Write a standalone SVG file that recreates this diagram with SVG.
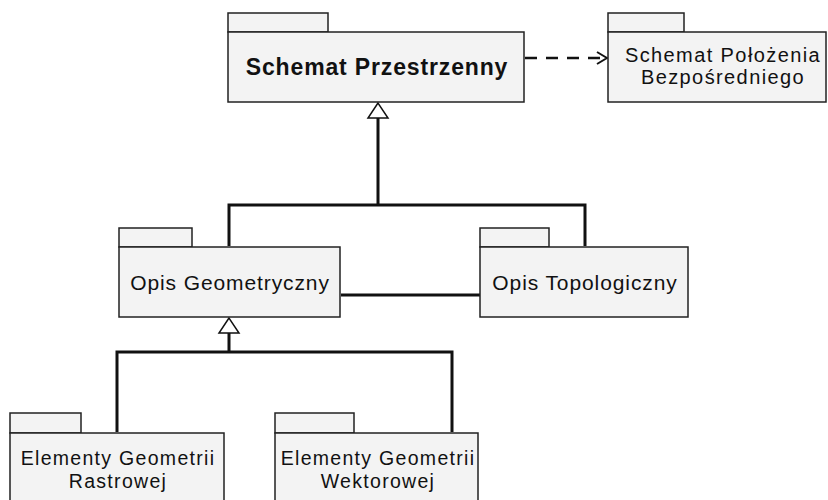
<svg xmlns="http://www.w3.org/2000/svg" width="828" height="500" viewBox="0 0 828 500">
<style>
.box{fill:#f3f3f3;stroke:#222;stroke-width:1.5}
.t{font-family:"Liberation Sans",Arial,sans-serif;fill:#111;text-anchor:middle}
.m{font-size:21px;letter-spacing:0.9px}
.s{font-size:19.5px;letter-spacing:1.3px}
.c{fill:none;stroke:#111;stroke-width:3}
.tri{fill:#fff;stroke:#111;stroke-width:1.5}
</style>
<defs>
<marker id="open" markerWidth="12" markerHeight="14" refX="11" refY="7" orient="auto" markerUnits="userSpaceOnUse">
<path d="M1,1 L11,7 L1,13" fill="none" stroke="#111" stroke-width="2"/>
</marker>
</defs>
<rect width="828" height="500" fill="#fff"/>
<g id="connectors">
<line class="c" x1="525" y1="58" x2="607" y2="58" stroke-dasharray="12,9" marker-end="url(#open)" style="stroke-width:2.5"/>
<path class="c" d="M378,118 V205 M229,246 V205 H585 V246"/>
<polygon class="tri" points="378,103 368,118 388,118"/>
<path class="c" d="M341,295 H480"/>
<path class="c" d="M229,333 V352 M117,432 V352 H452 V432"/>
<polygon class="tri" points="229,318 219,333 239,333"/>
</g>
<g id="schemat-przestrzenny">
<rect class="box" x="228" y="13" width="100" height="19"/>
<rect class="box" x="228" y="32" width="296" height="70"/>
<text class="t" x="377" y="75" font-size="23" font-weight="bold" letter-spacing="0.85">Schemat Przestrzenny</text>
</g>
<g id="schemat-polozenia">
<rect class="box" x="608" y="13" width="76" height="19"/>
<rect class="box" x="608" y="32" width="218" height="70"/>
<text class="t" x="723" y="62" font-size="20" letter-spacing="1.4">Schemat Położenia</text>
<text class="t" x="723" y="84" font-size="20" letter-spacing="1.4">Bezpośredniego</text>
</g>
<g id="opis-geometryczny">
<rect class="box" x="119" y="228" width="73" height="19"/>
<rect class="box" x="119" y="247" width="221" height="70"/>
<text class="t m" x="230" y="290">Opis Geometryczny</text>
</g>
<g id="opis-topologiczny">
<rect class="box" x="480" y="228" width="69" height="19"/>
<rect class="box" x="480" y="247" width="208" height="70"/>
<text class="t m" x="585" y="290">Opis Topologiczny</text>
</g>
<g id="elementy-rastrowej">
<rect class="box" x="10" y="413" width="71" height="20"/>
<rect class="box" x="10" y="433" width="214" height="80"/>
<text class="t s" x="118" y="465">Elementy Geometrii</text>
<text class="t s" x="118" y="488">Rastrowej</text>
</g>
<g id="elementy-wektorowej">
<rect class="box" x="275" y="413" width="79" height="20"/>
<rect class="box" x="275" y="433" width="203" height="80"/>
<text class="t s" x="378" y="465">Elementy Geometrii</text>
<text class="t s" x="378" y="488">Wektorowej</text>
</g>
</svg>
